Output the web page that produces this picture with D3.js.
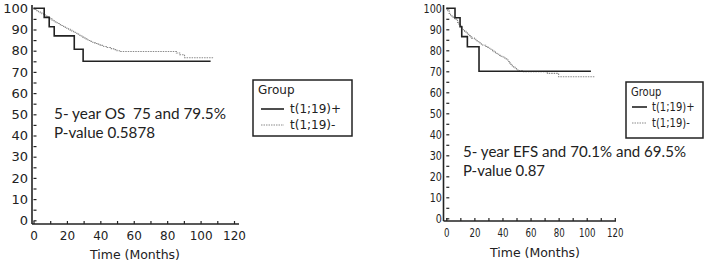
<!DOCTYPE html>
<html>
<head>
<meta charset="utf-8">
<script src="https://cdnjs.cloudflare.com/ajax/libs/d3/7.8.5/d3.min.js"></script>
<style>
  body { margin: 0; background: #fff; }
  svg { display: block; }
</style>
</head>
<body>
<div id="chart"></div>
<script>
// data: [months, percent]
var timeTicks = [0, 20, 40, 60, 80, 100, 120];
var survTicks = [0, 10, 20, 30, 40, 50, 60, 70, 80, 90, 100];
var groupLabels = ["t(1;19)+", "t(1;19)-"];

var osPos = [[0,100],[6.4,95.7],[9.4,91.3],[12.4,87.0],[24.4,80.7],[29.7,75.0],[106,75.0]];
var osNeg = [[0,100],[1,99.4],[2,98.9],[3,98.4],[4,97.9],[5,97.4],[6,96.9],[7,96.4],[8,95.9],[9,95.4],
  [10,95.0],[11,94.5],[12,94.1],[13,93.6],[14,93.2],[15,92.8],[16,92.3],[17,91.9],[18,91.4],[19,91.0],
  [20,90.5],[21,90.1],[22,89.6],[23,89.2],[24,88.7],[25,88.2],[26,87.8],[27,87.3],[28,86.9],[29,86.4],
  [30,86.0],[31,85.6],[32,85.2],[33,84.8],[34,84.4],[35,84.0],[36,83.7],[37,83.4],[38,83.1],[39,82.8],
  [40,82.5],[42,82.0],[44,81.5],[46,81.0],[48,80.5],[50,80.0],[52,79.6],[85.5,78.9],[87.5,78.1],
  [90.4,76.7],[108,76.7]];

var efsPos = [[0,100],[6.2,95.5],[9.8,91.2],[11,86.5],[15,81.7],[23.3,70.0],[103,70.0]];
var efsNeg = [[0,100],[1,98.8],[2,97.6],[3,96.5],[4,95.8],[6,95.0],[7,94.3],[8,93.3],[9,92.4],[10,91.5],
  [11,90.6],[12,89.8],[13,89.0],[14,88.3],[15,87.6],[16,87.0],[17,86.4],[18,85.8],[20,85.2],[21,84.6],
  [22,84.1],[24,83.5],[25,82.9],[26,82.4],[28,81.8],[29,81.4],[30,81.0],[31,80.5],[32,80.1],[33,79.7],
  [34,79.3],[35,78.9],[36,78.5],[37,78.1],[38,77.6],[39,77.2],[40,76.8],[41,76.3],[42,75.9],[43,75.4],
  [44,74.7],[45,74.0],[46,73.3],[47,72.6],[48,71.9],[49,71.3],[50,70.6],[52,70.2],[55,69.8],[72,69.0],
  [80,67.4],[106,67.4]];

var osNotes = ["5- year OS  75 and 79.5%", "P-value 0.5878"];
var efsNotes = ["5- year EFS and 70.1% and 69.5%", "P-value 0.87"];

var svg = d3.select("#chart").append("svg")
    .attr("width", 708)
    .attr("height", 267);

function drawPanel(p) {
    var x = d3.scaleLinear().domain([0, 120]).range([p.x0, p.x1]);
    var y = d3.scaleLinear().domain([0, 100]).range([p.y0, p.y1]);
    var g = svg.append("g");

    // x axis
    var xAxis = d3.axisBottom(x)
        .tickValues(d3.range(0, 121, 10))
        .tickSize(-3)
        .tickPadding(7)
        .tickFormat(function(d) { return timeTicks.indexOf(d) >= 0 ? d : ""; });
    var gx = g.append("g")
        .attr("transform", "translate(0," + p.axisY + ")")
        .call(xAxis);
    gx.select(".domain").remove();
    gx.selectAll("text")
        .style("font-family", "DejaVu Sans")
        .style("font-size", p.xFont + "px")
        .attr("fill", "#222")
        .attr("transform", "scale(" + p.xSquash + ",1)");

    // y axis
    var yAxis = d3.axisLeft(y)
        .tickValues(d3.range(0, 101, 5))
        .tickSize(-3)
        .tickPadding(p.yPad)
        .tickFormat(function(d) { return survTicks.indexOf(d) >= 0 ? d : ""; });
    var gy = g.append("g")
        .attr("transform", "translate(" + p.axisX + ",0)")
        .call(yAxis);
    gy.select(".domain").remove();
    gy.selectAll("text")
        .style("font-family", "DejaVu Sans")
        .style("font-size", p.yFont + "px")
        .attr("fill", "#222")
        .attr("transform", "scale(" + p.ySquash + ",1)");
    gx.selectAll(".tick line").attr("stroke", "#222").attr("stroke-width", 1.2);
    gy.selectAll(".tick line").attr("stroke", "#222").attr("stroke-width", 1.2)
        .attr("transform", "translate(" + (x(0) - p.axisX) + ",0)");

    g.append("line")
        .attr("x1", p.axisX).attr("x2", p.axisX)
        .attr("y1", 5).attr("y2", p.axisY)
        .attr("stroke", "#222").attr("stroke-width", 1.6);
    g.append("line")
        .attr("x1", p.axisX).attr("x2", p.xEnd)
        .attr("y1", p.axisY).attr("y2", p.axisY)
        .attr("stroke", "#222").attr("stroke-width", 1.6);

    g.append("text")
        .attr("x", p.titleX).attr("y", p.titleY)
        .attr("text-anchor", "middle")
        .style("font-family", "DejaVu Sans")
        .style("font-size", "12.5px")
        .attr("fill", "#222")
        .text("Time (Months)");

    var line = d3.line()
        .x(function(d) { return x(d[0]); })
        .y(function(d) { return y(d[1]); })
        .curve(d3.curveStepAfter);

    g.append("path")
        .datum(p.neg)
        .attr("d", line)
        .attr("fill", "none")
        .attr("stroke", "#8a8a8a")
        .attr("stroke-width", 1.1)
        .attr("stroke-dasharray", "1.5,1");
    g.append("path")
        .datum(p.pos)
        .attr("d", line)
        .attr("fill", "none")
        .attr("stroke", "#222")
        .attr("stroke-width", 1.6);

    // annotation
    g.selectAll("text.note")
        .data(p.notes)
        .enter()
        .append("text")
        .attr("class", "note")
        .attr("x", p.noteX)
        .attr("y", function(d, i) { return p.noteY + i * p.noteGap; })
        .attr("textLength", function(d, i) { return p.noteW[i]; })
        .attr("lengthAdjust", "spacingAndGlyphs")
        .style("white-space", "pre")
        .style("font-family", "Lato")
        .style("font-size", "15.5px")
        .attr("fill", "#222")
        .text(function(d) { return d; });

    // legend
    var lg = g.append("g").attr("transform", "translate(" + p.legX + "," + p.legY + ")");
    lg.append("rect")
        .attr("x", 0).attr("y", 0)
        .attr("width", p.legW).attr("height", 56)
        .attr("fill", "#fff")
        .attr("stroke", "#222").attr("stroke-width", 1.5);
    lg.append("text")
        .attr("x", 5 / p.legSquash).attr("y", 14)
        .style("font-family", "DejaVu Sans")
        .style("font-size", p.legFont + "px")
        .attr("fill", "#222")
        .attr("transform", "scale(" + p.legSquash + ",1)")
        .text("Group");
    lg.selectAll("line.key")
        .data(groupLabels)
        .enter()
        .append("line")
        .attr("class", "key")
        .attr("x1", p.keyX).attr("x2", p.keyX + p.keyW)
        .attr("y1", function(d, i) { return p.keyY + i * 16; })
        .attr("y2", function(d, i) { return p.keyY + i * 16; })
        .attr("stroke", function(d, i) { return i === 0 ? "#222" : "#8a8a8a"; })
        .attr("stroke-width", function(d, i) { return i === 0 ? 1.6 : 1.1; })
        .attr("stroke-dasharray", function(d, i) { return i === 0 ? null : "1.5,1"; });
    lg.selectAll("text.key")
        .data(groupLabels)
        .enter()
        .append("text")
        .attr("class", "key")
        .attr("x", p.keyTextX / p.legSquash)
        .attr("y", function(d, i) { return p.keyY + 4 + i * 16; })
        .attr("transform", "scale(" + p.legSquash + ",1)")
        .style("font-family", "DejaVu Sans")
        .style("font-size", p.legFont + "px")
        .attr("fill", "#222")
        .text(function(d) { return d; });
}

drawPanel({
    x0: 33.5, x1: 234, y0: 220.3, y1: 8.3,
    axisX: 32, axisY: 224, xEnd: 239,
    xFont: 12, yFont: 13, xSquash: 1, ySquash: 1, yPad: 4,
    titleX: 135, titleY: 259,
    pos: osPos, neg: osNeg,
    notes: osNotes, noteX: 54, noteY: 119, noteGap: 18.5, noteW: [172, 101],
    legX: 253, legY: 80, legW: 99, legFont: 12, legSquash: 1,
    keyX: 8, keyW: 23, keyY: 29, keyTextX: 37
});

drawPanel({
    x0: 446.3, x1: 614.8, y0: 218.3, y1: 8.3,
    axisX: 443.5, axisY: 221, xEnd: 616,
    xFont: 12, yFont: 12, xSquash: 0.72, ySquash: 0.8, yPad: 2,
    titleX: 535, titleY: 257,
    pos: efsPos, neg: efsNeg,
    notes: efsNotes, noteX: 463, noteY: 157, noteGap: 19, noteW: [223, 82],
    legX: 626, legY: 82, legW: 77, legFont: 11.5, legSquash: 0.87,
    keyX: 6, keyW: 15, keyY: 25, keyTextX: 26
});
</script>
</body>
</html>
